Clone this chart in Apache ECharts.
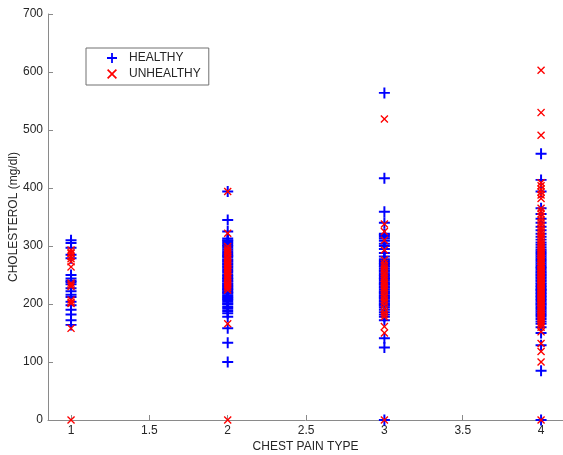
<!DOCTYPE html>
<html>
<head>
<meta charset="utf-8">
<script src="https://cdn.jsdelivr.net/npm/echarts@6/dist/echarts.min.js"></script>
<style>
  html, body { margin: 0; padding: 0; background: #fff; }
  #chart { width: 563px; height: 455px; }
</style>
</head>
<body>
<div id="chart"></div>
<script>
// chest pain type categories (x positions)
const chestPainTypes = [1, 2, 3, 4]
const xTicks = [1, 1.5, 2, 2.5, 3, 3.5, 4]

// cholesterol readings per chest pain type
const healthyChol = [
  [310, 305, 297, 285, 279, 250, 244, 240, 238, 234, 227, 222, 216, 212, 204, 198, 190, 182, 172, 164],
  [100, 133, 158, 178, 184, 188, 192, 195, 199, 201, 204, 207, 209, 211, 213, 215, 218, 220, 221, 224,
   226, 228, 230, 232, 234, 236, 239, 240, 243, 245, 248, 250, 254, 257, 260, 263, 265, 268, 270, 273,
   275, 277, 281, 283, 285, 288, 291, 294, 297, 300, 302, 305, 308, 310, 313, 325, 345, 394],
  [0, 125, 141, 172, 178, 182, 186, 190, 194, 197, 199, 201, 204, 206, 209, 211, 213, 215, 218, 220,
   222, 225, 228, 230, 233, 235, 237, 240, 243, 245, 248, 250, 253, 256, 258, 261, 264, 266, 269, 271,
   274, 277, 282, 288, 295, 300, 304, 309, 313, 316, 319, 321, 340, 359, 417, 564],
  [0, 85, 129, 150, 160, 166, 170, 174, 178, 181, 184, 187, 190, 193, 196, 199, 201, 204, 207, 209,
   212, 214, 217, 219, 222, 224, 226, 229, 231, 234, 236, 239, 241, 244, 246, 249, 251, 254, 256, 259,
   262, 264, 267, 270, 273, 276, 279, 282, 285, 288, 291, 294, 298, 302, 306, 311, 316, 321, 327, 333,
   340, 347, 355, 365, 394, 414, 459]
]
const unhealthyChol = [
  [0, 293, 289, 287, 282, 278, 273, 264, 236, 233, 230, 207, 203, 201, 158],
  [0, 166, 224, 228, 231, 234, 237, 241, 245, 247, 250, 253, 256, 258, 261, 264, 267, 270, 272, 275,
   279, 282, 286, 289, 292, 295, 299, 322, 394],
  [0, 150, 161, 178, 182, 186, 192, 198, 203, 207, 211, 214, 218, 222, 226, 229, 233, 236, 240, 244,
   247, 251, 254, 258, 262, 266, 270, 276, 293, 310, 325, 338, 519],
  [0, 100, 118, 132, 152, 160, 164, 167, 170, 173, 176, 179, 182, 185, 188, 190, 193, 196, 198, 201,
   203, 205, 208, 210, 212, 215, 217, 219, 222, 224, 226, 228, 231, 233, 235, 237, 240, 242, 244, 246,
   249, 251, 253, 256, 258, 260, 263, 265, 268, 270, 273, 275, 278, 281, 284, 287, 290, 293, 296, 299,
   303, 307, 311, 315, 319, 323, 327, 331, 336, 340, 345, 350, 355, 360, 365, 382, 388, 393, 398, 404,
   409, 491, 530, 603]
]

const toPoints = groups => groups.flatMap((vals, i) => vals.map(v => [chestPainTypes[i], v]))

// matlab-ish markers drawn as filled outlines
const plusPath = 'path://M4.1,0H5.9V4.1H10V5.9H5.9V10H4.1V5.9H0V4.1H4.1Z'
const crossPath = 'path://M0,1.2L1.2,0L5,3.8L8.8,0L10,1.2L6.2,5L10,8.8L8.8,10L5,6.2L1.2,10L0,8.8L3.8,5Z'

const font = 'Liberation Sans, Arial, sans-serif'
const axisGray = '#8a8a8a'
const textColor = '#262626'

const chart = echarts.init(document.getElementById('chart'))
chart.setOption({
  animation: false,
  backgroundColor: '#fff',
  grid: { left: 48, right: 0, top: 14, bottom: 35, outerBoundsMode: 'none', containLabel: false },
  legend: {
    left: 86, top: 48,
    orient: 'vertical',
    borderColor: '#707070', borderWidth: 1,
    padding: [4, 8, 5, 21],
    itemGap: 4,
    itemWidth: 10, itemHeight: 10,
    textStyle: { fontFamily: font, fontSize: 12, color: textColor, padding: [0, 0, 0, 7] },
    data: [
      { name: 'HEALTHY', icon: plusPath },
      { name: 'UNHEALTHY', icon: crossPath }
    ]
  },
  xAxis: {
    type: 'value',
    min: 0.853, max: 4.14,
    name: 'CHEST PAIN TYPE',
    nameLocation: 'middle',
    nameGap: 21,
    nameMoveOverlap: false,
    nameTextStyle: { fontFamily: font, fontSize: 12, color: textColor },
    axisLine: { lineStyle: { color: axisGray } },
    axisTick: { inside: true, length: 5, lineStyle: { color: axisGray }, customValues: xTicks },
    axisLabel: { fontFamily: font, fontSize: 12, color: textColor, margin: 5, customValues: xTicks },
    splitLine: { show: false }
  },
  yAxis: {
    type: 'value',
    min: 0, max: 700, interval: 100,
    name: 'CHOLESTEROL (mg/dl)',
    nameLocation: 'middle',
    nameGap: 28,
    nameMoveOverlap: false,
    nameTextStyle: { fontFamily: font, fontSize: 12, color: textColor },
    axisLine: { show: true, lineStyle: { color: axisGray } },
    axisTick: { show: true, inside: true, length: 5, lineStyle: { color: axisGray } },
    axisLabel: { fontFamily: font, fontSize: 12, color: textColor, margin: 5 },
    splitLine: { show: false }
  },
  series: [
    {
      name: 'HEALTHY', type: 'scatter',
      symbol: plusPath, symbolSize: 11,
      itemStyle: { color: '#0000ff', opacity: 1 },
      data: toPoints(healthyChol)
    },
    {
      name: 'UNHEALTHY', type: 'scatter',
      symbol: crossPath, symbolSize: 8,
      itemStyle: { color: '#ff0000', opacity: 1 },
      data: toPoints(unhealthyChol)
    }
  ]
})
</script>
</body>
</html>
